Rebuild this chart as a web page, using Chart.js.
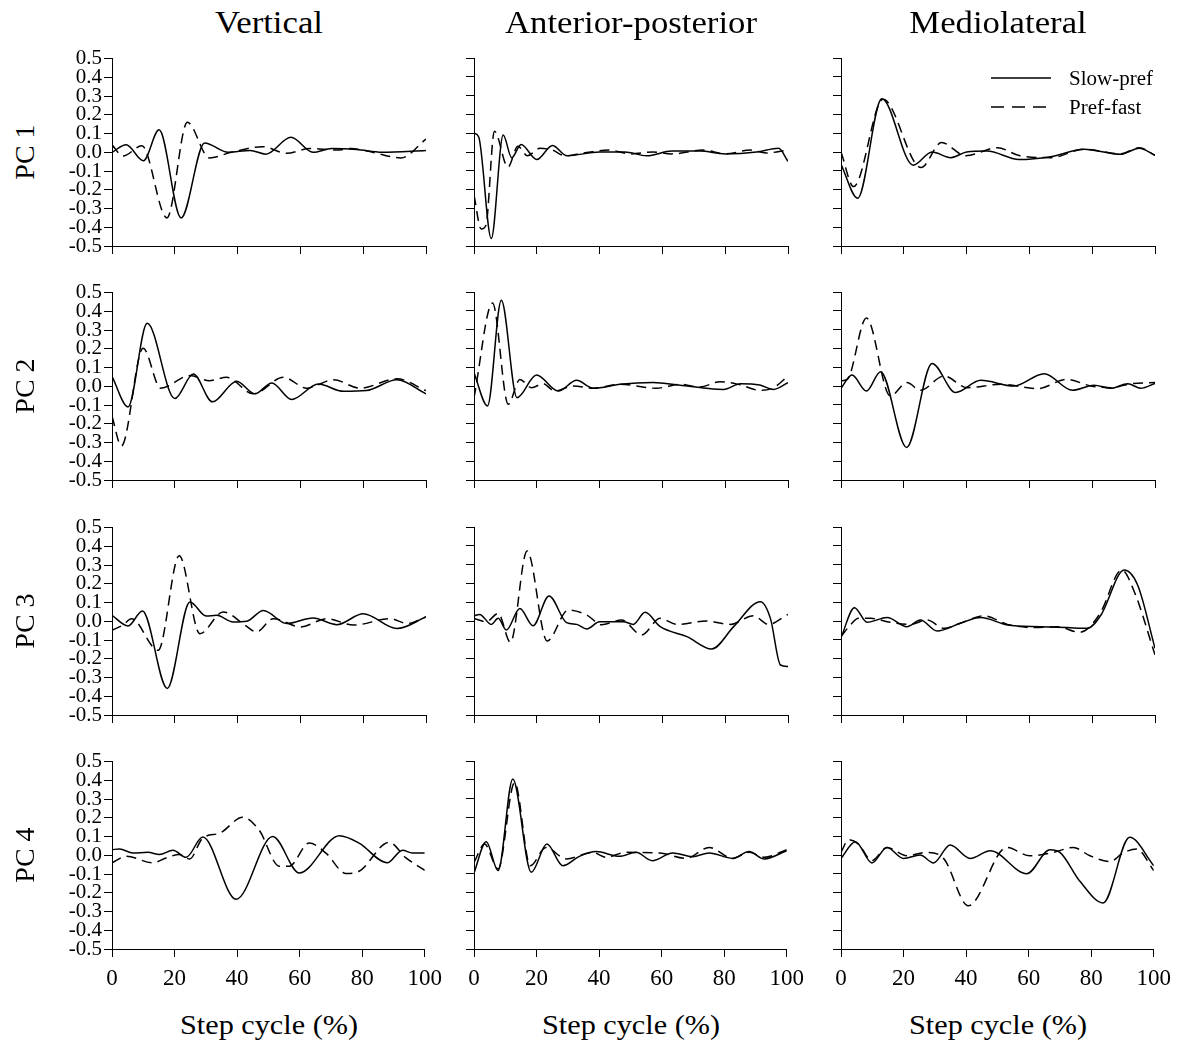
<!DOCTYPE html>
<html>
<head>
<meta charset="utf-8">
<script src="https://cdn.jsdelivr.net/npm/chart.js@4.4.1/dist/chart.umd.min.js"></script>
<style>
  html, body { margin: 0; padding: 0; background: #fff; }
  #fig { position: relative; width: 1200px; height: 1050px; background: #fff; overflow: hidden; }
  #fig canvas { position: absolute; }
  .txt { position: absolute; font-family: "Liberation Serif", "Times New Roman", serif; color: #000;
         white-space: nowrap; line-height: 1; }
</style>
</head>
<body>
<div id="fig"></div>
<script>
// ---- data (step cycle %, PC loading) ----
const xTicks = [0, 20, 40, 60, 80, 100];
const yTicks = [-0.5, -0.4, -0.3, -0.2, -0.1, 0.0, 0.1, 0.2, 0.3, 0.4, 0.5];
const colTitles = ["Vertical", "Anterior-posterior", "Mediolateral"];
const rowTitles = ["PC 1", "PC 2", "PC 3", "PC 4"];
const seriesNames = ["Slow-pref", "Pref-fast"];
const xTitle = "Step cycle (%)";

// PC 1
const vPc1Slow = [[0,0.0],[4.5,0.04],[10,-0.045],[15,0.12],[22,-0.35],[29.5,0.05],[37,0.0],[44,0.01],[49,-0.01],[57,0.08],[64,0.0],[70,0.02],[78,0.015],[86,0.0],[100,0.01]];
const vPc1Fast = [[0,0.04],[3.5,-0.02],[9.5,0.035],[17.5,-0.35],[24,0.16],[31,-0.03],[38,0.0],[48,0.03],[55.6,-0.005],[63,0.02],[71.6,0.012],[76,0.02],[83,0.0],[92,-0.03],[100,0.07]];
const aPc1Slow = [[0,0.1],[1.5,0.08],[5.5,-0.46],[9.3,0.09],[12,-0.03],[15,0.04],[20,-0.04],[25,0.035],[29.5,-0.02],[40,0.0],[48,0.0],[55,-0.02],[63,0.005],[72,0.005],[80,-0.01],[90,0.0],[97,0.02],[100,-0.05]];
const aPc1Fast = [[0,-0.23],[2.3,-0.41],[3.8,-0.39],[6.5,0.11],[10.8,-0.08],[14,0.03],[17,-0.02],[21,0.02],[25,0.01],[29,-0.02],[35,-0.005],[43,0.01],[50,-0.01],[57,0.0],[63,-0.01],[73,0.01],[80,-0.01],[88,0.01],[93,-0.005],[100,0.01]];
const mPc1Slow = [[0,-0.065],[5.3,-0.246],[13,0.283],[23,-0.07],[29,0.0],[35,-0.03],[40,0.0],[46.5,0.005],[56.7,-0.04],[66.8,-0.025],[77.4,0.015],[89,-0.012],[95,0.02],[100,-0.018]];
const mPc1Fast = [[0,0.0],[4,-0.184],[13.4,0.28],[25.5,-0.083],[32,0.05],[39.7,-0.02],[49.8,0.023],[57,-0.02],[67,-0.03],[77.4,0.015],[89,-0.01],[95,0.023],[100,-0.018]];

// PC 2
const vPc2Slow = [[0,0.053],[5.1,-0.11],[11.2,0.336],[20,-0.065],[25.9,0.065],[32,-0.083],[39.7,0.027],[45.5,-0.04],[50.9,0.018],[57.2,-0.07],[65.7,0.012],[73.7,-0.027],[81,-0.023],[90.7,0.035],[100,-0.04]];
const vPc2Fast = [[0,-0.16],[3,-0.318],[9.9,0.203],[15.5,-0.01],[24.8,0.057],[31,0.03],[36.5,0.048],[45,-0.04],[54.6,0.048],[62,-0.01],[70.5,0.035],[79,-0.01],[90.7,0.04],[100,-0.023]];
const aPc2Slow = [[0,0.07],[4.3,-0.106],[8.7,0.456],[13.7,-0.062],[19.9,0.058],[26.8,-0.027],[32.7,0.03],[38,-0.012],[46.5,0.009],[57,0.018],[65.6,0.004],[74,-0.012],[79.5,-0.018],[84.8,0.012],[91,0.005],[95.4,-0.018],[100,0.018]];
const aPc2Fast = [[0,-0.062],[5.9,0.442],[10.9,-0.097],[14.6,0.035],[18.3,-0.009],[22,0.012],[25.7,-0.027],[31.6,0.0],[38,-0.012],[46.5,0.009],[58,-0.012],[65.6,0.009],[72,-0.005],[78.4,0.023],[85,0.005],[91,-0.023],[95.4,-0.009],[100,0.053]];
const mPc2Slow = [[0,-0.012],[3.5,0.058],[8.1,-0.027],[12.6,0.076],[20.9,-0.327],[29,0.12],[36.5,-0.035],[44.5,0.03],[55,0.0],[64.7,0.065],[73.7,-0.023],[80.6,0.004],[86,-0.012],[91.3,0.012],[95.5,-0.012],[100,0.014]];
const mPc2Fast = [[0,0.027],[2,0.035],[8.1,0.362],[15.7,-0.053],[21,0.018],[25.3,-0.023],[32.8,0.053],[40.2,-0.009],[50.9,0.009],[62.5,-0.014],[72,0.035],[79.6,0.0],[86,-0.009],[92.3,0.012],[100,0.018]];

// PC 3
const vPc3Slow = [[0,0.032],[5.1,-0.025],[9.7,0.055],[17.6,-0.358],[24.8,0.103],[30,0.028],[33.3,0.032],[38.6,-0.004],[42.9,0.0],[48.2,0.058],[55.6,-0.012],[64,0.018],[71.6,-0.018],[80,0.04],[90.7,-0.039],[100,0.023]];
const vPc3Fast = [[0,-0.048],[3.5,-0.02],[6.2,0.014],[14.7,-0.155],[21.4,0.35],[28,-0.066],[35.4,0.05],[42.3,-0.02],[46,-0.057],[51.4,0.014],[60,-0.03],[68.4,0.014],[77,-0.02],[88.6,0.014],[94,-0.012],[100,0.023]];
const aPc3Slow = [[0,0.027],[1.8,0.035],[5.5,-0.018],[7.7,0.014],[10.3,-0.048],[14.6,0.067],[18.8,-0.025],[23.9,0.133],[29.5,-0.009],[32.7,-0.018],[35.9,-0.042],[40,-0.004],[47.6,-0.004],[50.7,-0.018],[54.5,0.046],[59.3,-0.03],[67.8,-0.083],[75.7,-0.149],[82.7,-0.03],[91.2,0.103],[94.4,0.014],[97.6,-0.234],[100,-0.242]];
const aPc3Fast = [[0,0.014],[3.9,-0.004],[7.7,0.04],[11.6,-0.113],[16.9,0.373],[23.3,-0.106],[30,0.058],[35.9,0.032],[40.6,-0.02],[47,0.005],[53.4,-0.074],[59.3,0.014],[64.6,-0.018],[74,0.0],[81.6,-0.018],[89,0.028],[93.8,-0.018],[100,0.035]];
const mPc3Slow = [[0,-0.088],[4.3,0.071],[8.3,-0.007],[14.7,0.019],[21,-0.03],[25.3,0.005],[30.6,-0.053],[38,-0.012],[44.5,0.018],[53,-0.021],[63.6,-0.03],[72,-0.035],[78.5,-0.039],[82.8,0.032],[90.2,0.271],[94.5,0.19],[100,-0.145]];
const mPc3Fast = [[0,-0.083],[3,-0.021],[5.6,0.014],[9.4,0.014],[15.7,-0.007],[22,-0.018],[27.4,0.005],[32.8,-0.039],[38,-0.012],[45.5,0.028],[53,-0.018],[61.5,-0.035],[69,-0.03],[75.9,-0.06],[78.5,-0.042],[82.8,0.05],[89.4,0.271],[93.4,0.156],[100,-0.18]];

// PC 4
const vPc4Slow = [[0,0.03],[2.4,0.034],[6.7,0.012],[11.5,0.016],[15.2,0.004],[19.5,0.027],[23.7,-0.011],[29,0.097],[39.7,-0.235],[51.4,0.1],[59.9,-0.094],[72.7,0.104],[79,0.065],[88,-0.04],[92.9,0.027],[96,0.012],[100,0.012]];
const vPc4Fast = [[0,-0.04],[4.6,-0.005],[13,-0.04],[17.3,-0.014],[21.6,0.004],[24.8,-0.02],[29,0.092],[34.4,0.118],[41.8,0.203],[47,0.136],[53.5,-0.058],[56.7,-0.058],[63,0.065],[68.4,0.012],[74.8,-0.097],[79,-0.085],[88.6,0.069],[94,-0.014],[100,-0.08]];
const aPc4Slow = [[0,-0.096],[3.9,0.071],[7.7,-0.083],[12.4,0.404],[18.3,-0.092],[23.3,0.058],[28.4,-0.057],[33.7,-0.007],[39,0.018],[46.5,-0.007],[51.8,0.014],[57,-0.03],[63.5,0.011],[69.9,-0.009],[75.2,0.011],[82.7,-0.018],[88,0.018],[92.8,-0.021],[100,0.023]];
const aPc4Fast = [[0,-0.04],[3.4,0.058],[7.7,-0.074],[13,0.386],[18,-0.057],[23,0.04],[29.5,-0.021],[38,0.014],[42.2,-0.012],[48.6,0.014],[59.3,0.011],[67.8,-0.018],[75.2,0.04],[82.7,-0.018],[88,0.014],[92.8,-0.012],[100,0.028]];
const mPc4Slow = [[0,-0.018],[4.6,0.071],[9.9,-0.042],[14.7,0.04],[20,-0.018],[25.3,0.0],[29.6,-0.042],[34.9,0.053],[41.3,-0.018],[47.7,0.023],[59.4,-0.1],[66.8,0.028],[70,0.014],[76.4,-0.14],[83.8,-0.255],[92.3,0.094],[100,-0.057]];
const mPc4Fast = [[0,0.014],[2.4,0.081],[5.6,0.058],[9.9,-0.03],[14.7,0.04],[21,-0.004],[27.4,0.014],[32.8,-0.018],[40.7,-0.27],[53,0.04],[60.4,-0.004],[67.9,0.014],[74.3,0.04],[79.6,-0.004],[86,-0.035],[90.2,0.011],[94.5,0.032],[100,-0.083]];

// row-major: [slow, fast] per panel
const panels = [
  [[vPc1Slow, vPc1Fast], [aPc1Slow, aPc1Fast], [mPc1Slow, mPc1Fast]],
  [[vPc2Slow, vPc2Fast], [aPc2Slow, aPc2Fast], [mPc2Slow, mPc2Fast]],
  [[vPc3Slow, vPc3Fast], [aPc3Slow, aPc3Fast], [mPc3Slow, mPc3Fast]],
  [[vPc4Slow, vPc4Fast], [aPc4Slow, aPc4Fast], [mPc4Slow, mPc4Fast]]
];

// ---- layout (page pixels of each plot area) ----
const plotW = 314, plotH = 188;
const colLeft = [112, 474, 841];
const rowTop = [58, 292, 527, 761];
const yAxisW = 60, padTop = 14, padRight = 24, bottomSpace = 50;
const FONT = "'Liberation Serif', 'Times New Roman', serif";

const fig = document.getElementById("fig");

function toXY(arr){ return arr.map(p => ({ x: p[0], y: p[1] })); }

function fmtTick(v){
  if (Math.abs(v) < 1e-9) return "0.0";
  return v.toFixed(1);
}

function addText(str, cx, cy, size, opts = {}){
  const el = document.createElement("div");
  el.className = "txt";
  el.textContent = str;
  el.style.fontSize = size + "px";
  el.style.left = cx + "px";
  el.style.top = cy + "px";
  const sx = opts.sx || 1;
  const rot = opts.rot ? ` rotate(${opts.rot}deg)` : "";
  el.style.transform = `translate(-50%,-50%)${rot} scaleX(${sx})`;
  fig.appendChild(el);
  return el;
}

function makePanel(r, c){
  const showX = r === rowTop.length - 1;
  const showY = c === 0;
  const xh = showX ? 40 : 10;
  const cv = document.createElement("canvas");
  cv.width = yAxisW + plotW + padRight;
  cv.height = padTop + plotH + bottomSpace;
  cv.style.left = (colLeft[c] - yAxisW) + "px";
  cv.style.top = (rowTop[r] - padTop) + "px";
  fig.appendChild(cv);

  const [slow, fast] = panels[r][c];
  const axisGrid = { drawOnChartArea: false, drawTicks: true, tickLength: 8, color: "#000", lineWidth: 1 };
  const axisBorder = { display: true, color: "#000", width: 1 };

  return new Chart(cv.getContext("2d"), {
    type: "line",
    data: {
      datasets: [
        { label: seriesNames[0], data: toXY(slow), borderColor: "#000", borderWidth: 1.5,
          pointRadius: 0, fill: false, cubicInterpolationMode: "monotone" },
        { label: seriesNames[1], data: toXY(fast), borderColor: "#000", borderWidth: 1.5,
          borderDash: [10, 6], pointRadius: 0, fill: false, cubicInterpolationMode: "monotone" }
      ]
    },
    options: {
      responsive: false,
      animation: false,
      events: [],
      layout: { padding: { left: 0, top: padTop, right: padRight, bottom: bottomSpace - xh } },
      plugins: { legend: { display: false }, tooltip: { enabled: false } },
      scales: {
        x: {
          type: "linear", min: 0, max: 100,
          afterBuildTicks: s => { s.ticks = xTicks.map(v => ({ value: v })); },
          afterFit: s => { s.height = xh; },
          grid: axisGrid, border: axisBorder,
          ticks: { display: showX, color: "#000", padding: 8, maxRotation: 0, autoSkip: false,
                   font: { family: FONT, size: 23 }, callback: v => String(v) }
        },
        y: {
          type: "linear", min: -0.5, max: 0.5,
          afterBuildTicks: s => { s.ticks = yTicks.map(v => ({ value: v })); },
          afterFit: s => { s.width = yAxisW; },
          grid: axisGrid, border: axisBorder,
          ticks: { display: showY, color: "#000", padding: 2, autoSkip: false,
                   font: { family: FONT, size: 21 }, callback: v => fmtTick(v) }
        }
      }
    }
  });
}

function drawLegend(){
  const NS = "http://www.w3.org/2000/svg";
  const svg = document.createElementNS(NS, "svg");
  svg.setAttribute("width", "70");
  svg.setAttribute("height", "50");
  svg.style.position = "absolute";
  svg.style.left = "988px";
  svg.style.top = "68px";
  [[10, null], [39, "13 8"]].forEach(([y, dash]) => {
    const ln = document.createElementNS(NS, "line");
    ln.setAttribute("x1", "3"); ln.setAttribute("x2", "63");
    ln.setAttribute("y1", y); ln.setAttribute("y2", y);
    ln.setAttribute("stroke", "#000"); ln.setAttribute("stroke-width", "1.5");
    if (dash) ln.setAttribute("stroke-dasharray", dash);
    svg.appendChild(ln);
  });
  fig.appendChild(svg);
  seriesNames.forEach((name, i) => {
    const el = addText(name, 1069, i ? 107 : 78, 20);
    el.style.transformOrigin = "0 50%";
    el.style.transform = "translate(0,-50%) scaleX(1.05)";
  });
}

function run(){
  for (let r = 0; r < rowTop.length; r++)
    for (let c = 0; c < colLeft.length; c++) makePanel(r, c);

  colTitles.forEach((t, c) => {
    const cx = colLeft[c] + plotW / 2;
    addText(t, cx, 22, 31, { sx: 1.12 });
    addText(xTitle, cx, 1025, 28, { sx: 1.08 });
  });
  rowTitles.forEach((t, r) => addText(t, 25, rowTop[r] + plotH / 2, 28, { rot: -90 }));
  drawLegend();
}

run();
</script>
</body>
</html>
